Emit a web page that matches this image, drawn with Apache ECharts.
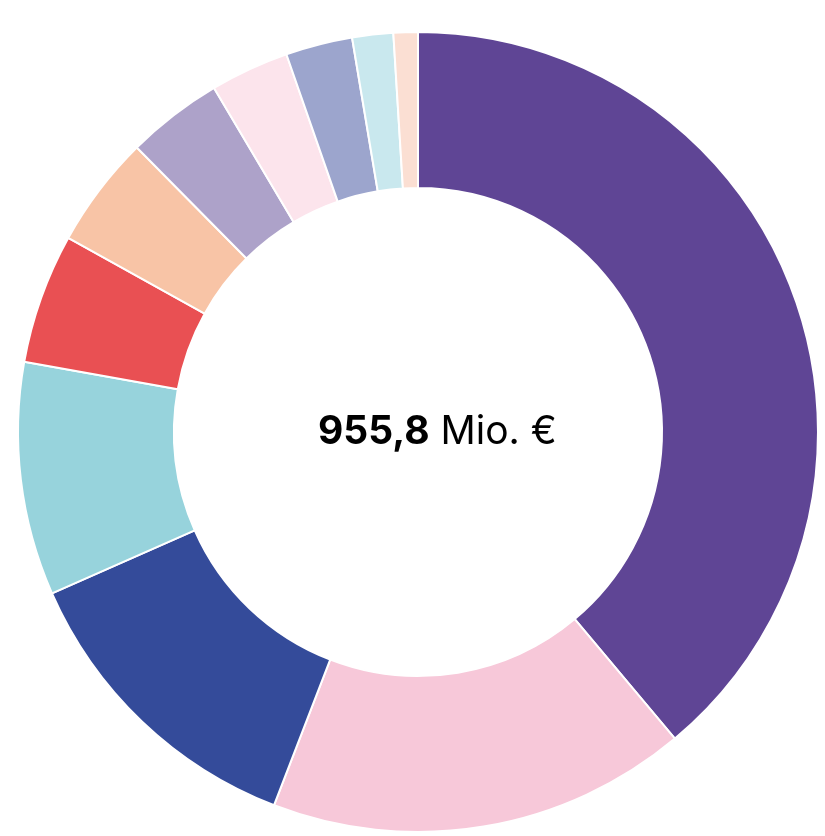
<!DOCTYPE html>
<html>
<head>
<meta charset="utf-8">
<script src="https://cdn.jsdelivr.net/npm/echarts@6/dist/echarts.min.js"></script>
<style>
  html, body { margin: 0; padding: 0; background: #fff; }
  #chart { width: 825px; height: 836px; }
</style>
</head>
<body>
<div id="chart"></div>
<script>
var names = ["Anteil 1", "Anteil 2", "Anteil 3", "Anteil 4", "Anteil 5", "Anteil 6",
             "Anteil 7", "Anteil 8", "Anteil 9", "Anteil 10", "Anteil 11"];
var values = [371.8, 162.1, 119.8, 90.0, 50.2, 43.3, 37.2, 30.4, 25.8, 15.8, 9.4];
var colors = ["#5f4595", "#f7c8d9", "#344b9a", "#97d3dc", "#e95053", "#f8c4a6",
              "#ada2c9", "#fce4ec", "#9ca5cd", "#c9e8ee", "#fbdfd3"];
var totalLabel = "955,8";

var font = "Inter";
var chart = echarts.init(document.getElementById("chart"));
var option = {
    animation: false,
    graphic: [{
        type: "text",
        left: 318,
        top: 413,
        style: {
            text: "{b|" + totalLabel + "} {n|Mio. €}",
            fontFamily: font,
            fontSize: 39,
            fill: "#000",
            rich: {
                b: { fontFamily: font, fontWeight: "bold", fontSize: 39, fill: "#000" },
                n: { fontFamily: font, fontWeight: "normal", fontSize: 39, fill: "#000" }
            }
        }
    }],
    series: [{
        type: "pie",
        center: [418, 432],
        radius: [244, 400],
        startAngle: 90,
        clockwise: true,
        label: { show: false },
        labelLine: { show: false },
        itemStyle: { borderColor: "#fff", borderWidth: 2 },
        emphasis: { disabled: true },
        data: names.map(function (n, i) {
            return { name: n, value: values[i], itemStyle: { color: colors[i] } };
        })
    }]
};
chart.setOption(option);
window.addEventListener("resize", chart.resize);
</script>
</body>
</html>
